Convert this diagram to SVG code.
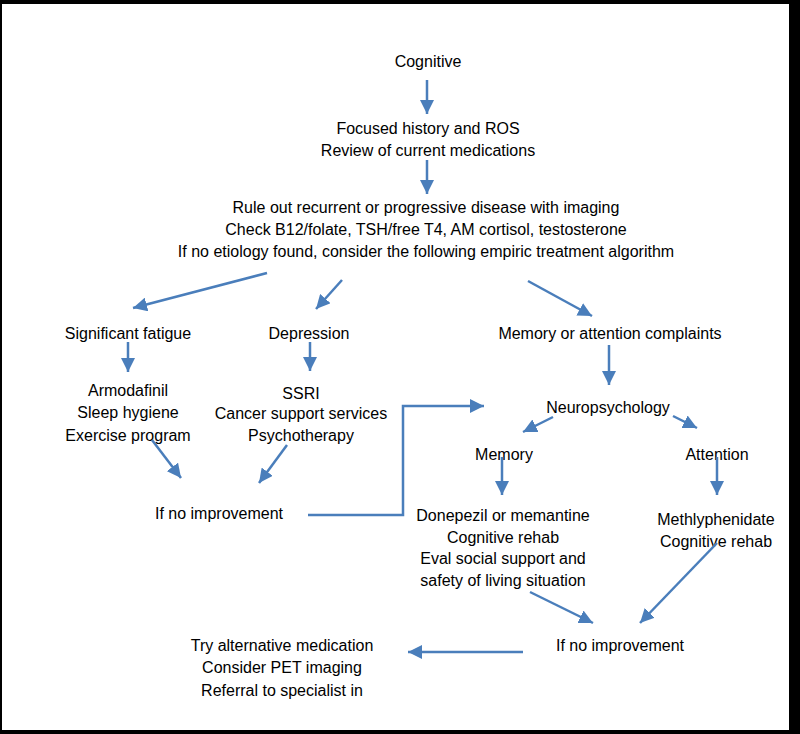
<svg xmlns="http://www.w3.org/2000/svg" width="800" height="734" viewBox="0 0 800 734">
<defs>
<marker id="ah" viewBox="0 0 10 10" refX="10" refY="5" markerUnits="userSpaceOnUse" markerWidth="14" markerHeight="14" orient="auto">
<path d="M0,0 L10,5 L0,10 z" fill="#4a7ebb"/>
</marker>
</defs>
<style>
text{font-family:"Liberation Sans",Arial,sans-serif;font-size:16px;fill:#000;text-anchor:middle}
.c{fill:none;stroke:#4a7ebb;stroke-width:2.5;marker-end:url(#ah)}
</style>
<rect x="0" y="0" width="800" height="734" fill="#000"/>
<rect x="2" y="4" width="787" height="726" fill="#fff"/>
<g id="n-cognitive"><text x="428" y="67">Cognitive</text></g>
<g id="n-history"><text x="428" y="134">Focused history and ROS</text><text x="428" y="156">Review of current medications</text></g>
<g id="n-ruleout"><text x="426" y="213">Rule out recurrent or progressive disease with imaging</text><text x="426" y="235">Check B12/folate, TSH/free T4, AM cortisol, testosterone</text><text x="426" y="257">If no etiology found, consider the following empiric treatment algorithm</text></g>
<g id="n-fatigue"><text x="128" y="339">Significant fatigue</text></g>
<g id="n-depression"><text x="309" y="339">Depression</text></g>
<g id="n-memattn"><text x="610" y="339">Memory or attention complaints</text></g>
<g id="n-fatiguetx"><text x="128" y="396">Armodafinil</text><text x="128" y="418">Sleep hygiene</text><text x="128" y="441">Exercise program</text></g>
<g id="n-deptx"><text x="301" y="399">SSRI</text><text x="301" y="419">Cancer support services</text><text x="301" y="441">Psychotherapy</text></g>
<g id="n-noimp1"><text x="219" y="519">If no improvement</text></g>
<g id="n-neuro"><text x="608" y="413">Neuropsychology</text></g>
<g id="n-memory"><text x="504" y="460">Memory</text></g>
<g id="n-attention"><text x="717" y="460">Attention</text></g>
<g id="n-memtx"><text x="503" y="521">Donepezil or memantine</text><text x="503" y="543">Cognitive rehab</text><text x="503" y="564">Eval social support and</text><text x="503" y="586">safety of living situation</text></g>
<g id="n-attntx"><text x="716" y="525">Methlyphenidate</text><text x="716" y="547">Cognitive rehab</text></g>
<g id="n-noimp2"><text x="620" y="651">If no improvement</text></g>
<g id="n-final"><text x="282" y="651">Try alternative medication</text><text x="282" y="673">Consider PET imaging</text><text x="282" y="696">Referral to specialist in</text></g>
<g id="connectors">
<line class="c" x1="427" y1="80" x2="427" y2="114"/>
<line class="c" x1="427" y1="160" x2="427" y2="194"/>
<line class="c" x1="267" y1="273" x2="133" y2="308"/>
<line class="c" x1="342" y1="280" x2="316" y2="309"/>
<line class="c" x1="528" y1="281" x2="592" y2="316"/>
<line class="c" x1="128" y1="342" x2="128" y2="372"/>
<line class="c" x1="310" y1="342" x2="310" y2="371"/>
<line class="c" x1="609" y1="345" x2="609" y2="385"/>
<line class="c" x1="152" y1="440" x2="181" y2="478"/>
<line class="c" x1="287" y1="445" x2="259" y2="483"/>
<polyline class="c" points="308,515 403,515 403,406 484,406"/>
<line class="c" x1="553" y1="417" x2="523" y2="432"/>
<line class="c" x1="673" y1="416" x2="697" y2="428"/>
<line class="c" x1="502" y1="457" x2="502" y2="495"/>
<line class="c" x1="717" y1="457" x2="717" y2="495"/>
<line class="c" x1="717" y1="543" x2="640" y2="623"/>
<line class="c" x1="530" y1="592" x2="593" y2="623"/>
<line class="c" x1="523" y1="652" x2="408" y2="652"/>
</g>
</svg>
